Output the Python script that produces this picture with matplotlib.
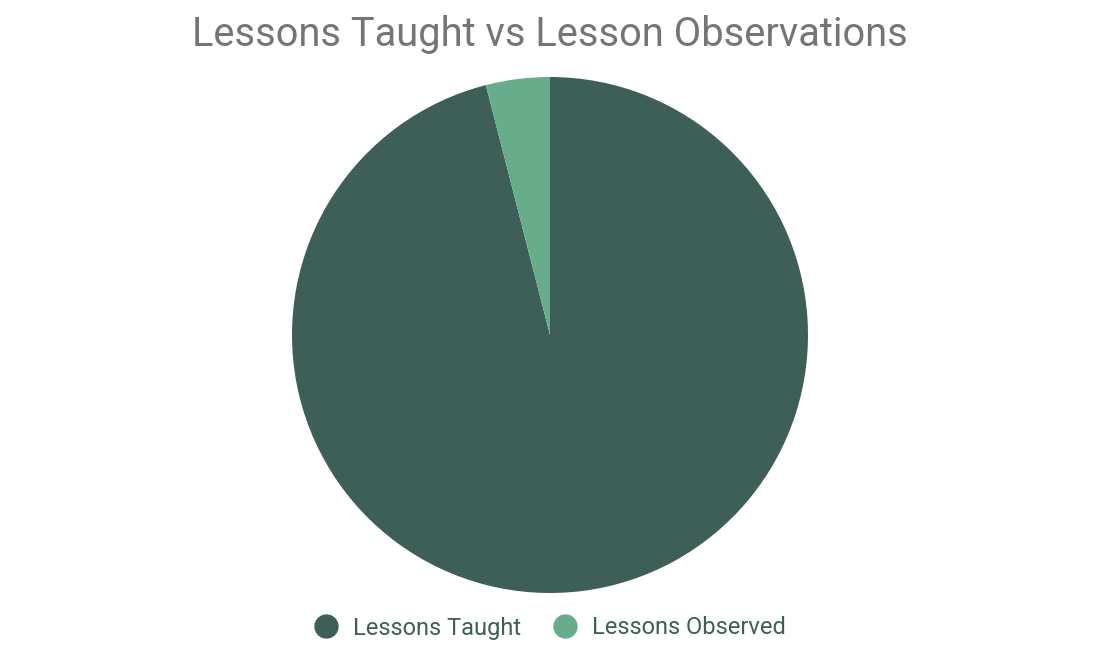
import matplotlib
matplotlib.use("Agg")
import matplotlib.pyplot as plt
from matplotlib.lines import Line2D

labels = ["Lessons Taught", "Lessons Observed"]
values = [96, 4]
colors = ["#3e5e58", "#67ad8c"]
title = "Lessons Taught vs Lesson Observations"

plt.rcParams['font.family'] = ['Roboto', 'DejaVu Sans']

fig = plt.figure(figsize=(11.1, 6.66), dpi=100)
cx, cy, r = 550, 335, 258
ax = fig.add_axes([(cx - r) / 1110, (666 - cy - r) / 666, 2 * r / 1110, 2 * r / 666])
ax.pie(values, colors=colors, startangle=90, counterclock=False,
       wedgeprops=dict(linewidth=0))
ax.set_aspect('equal')
ax.set_xlim(-1, 1)
ax.set_ylim(-1, 1)
ax.axis('off')

fig.text(550 / 1110, 1 - 34 / 666, title, ha='center', va='center',
         fontsize=28.7, color='#757575')

handles = [Line2D([], [], marker='o', linestyle='none', markersize=16.5,
                  markerfacecolor=c, markeredgecolor=c) for c in colors]
leg = fig.legend(handles, labels, loc='center', bbox_to_anchor=(549 / 1110, 1 - 628 / 666),
                 ncol=2, frameon=False, fontsize=17, handletextpad=0.56,
                 columnspacing=1.25, handlelength=1.2)
for t in leg.get_texts():
    t.set_color('#3e5e58')

fig.savefig("out.png", dpi=100)
